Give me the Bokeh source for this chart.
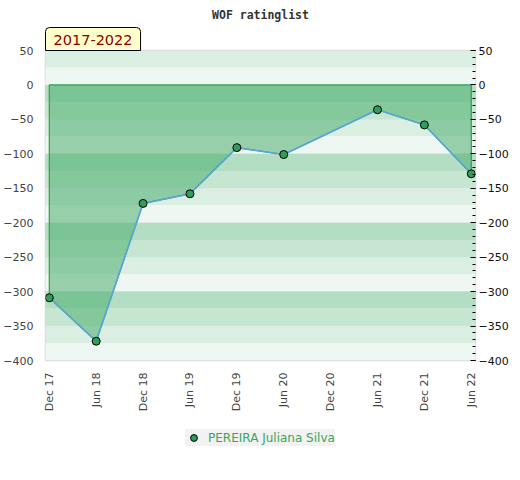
import numpy as np
from bokeh.plotting import figure
from bokeh.layouts import column
from bokeh.models import (Range1d, LinearAxis, SingleIntervalTicker, FixedTicker,
                          Legend, LegendItem, Title)
from bokeh.embed import file_html
from bokeh.resources import INLINE

# ---- data ----
months = ["Dec 17", "Jun 18", "Dec 18", "Jun 19", "Dec 19",
          "Jun 20", "Dec 20", "Jun 21", "Dec 21", "Jun 22"]
rating = [-309, -372, -172, -158, -91, -101, None, -36, -58, -129]
player = "PEREIRA Juliana Silva"
period = "2017-2022"
title_text = "WOF ratinglist"
y_min, y_max = -400, 50

# ---- derived ----
xs = [i for i, v in enumerate(rating) if v is not None]
ys = [v for v in rating if v is not None]

band_colors = ["#b3dec3", "#c6e6d2", "#dbeee2", "#eff7f2"]
band_tops = np.arange(y_max, y_min, -25)
band_bottoms = band_tops - 25
band_fill = [band_colors[int(((-t) % 100) // 25)] for t in band_tops]

MARK_FILL = "#2f9e5a"

p = figure(frame_width=430, frame_height=310, output_backend="svg",
           toolbar_location=None, title=None,
           x_range=Range1d(-0.081, 9.09), y_range=Range1d(y_min, y_max),
           min_border_left=37, min_border_right=37, min_border_top=50,
           min_border_bottom=50, background_fill_color="white",
           border_fill_color="white")
p.outline_line_color = "#d8d8d8"
p.outline_line_width = 1.5

# titles (first in list = closest to frame)
period_title = Title(text=period, align="left", text_font="DejaVu Sans",
                     text_font_size="14.5px", text_font_style="normal",
                     text_color="#8b0000", background_fill_color="#ffffcc",
                     border_line_color="black", border_line_width=1,
                     padding=dict(left=8, right=8, top=7, bottom=6),
                     border_radius=dict(top_left=4, top_right=4,
                                        bottom_right=0, bottom_left=0),
                     standoff=0, offset=0)
main_title = Title(text=title_text, align="center", text_font="DejaVu Sans Mono",
                   text_font_size="11.5px", text_font_style="bold",
                   text_color="#333333", standoff=8)
p.add_layout(period_title, "above")
p.add_layout(main_title, "above")

# background bands
p.quad(left=-1, right=10, top=band_tops, bottom=band_bottoms,
       fill_color=band_fill, line_color=None)
# grid lines every 50
p.ygrid.ticker = SingleIntervalTicker(interval=50)
p.xgrid.visible = False
p.ygrid.grid_line_color = "#dcdcdc"
p.ygrid.grid_line_width = 1.5
p.ygrid.level = "underlay"

# area
px = [xs[0]] + xs + [xs[-1]]
py = [0] + ys + [0]
p.patch(px, py, fill_color="#4cad6e", fill_alpha=0.54,
        line_color="#2e9e55", line_width=1.2)

# line + markers
p.line(xs, ys, line_color="#5ba3dc", line_width=1.5)
pts = p.scatter(xs, ys, size=8, fill_color=MARK_FILL, line_color="black",
                line_width=1)

# axes
p.yaxis.ticker = SingleIntervalTicker(interval=50)
p.yaxis.axis_line_color = None
p.yaxis.major_tick_line_color = None
p.yaxis.minor_tick_line_color = None
p.yaxis.major_label_text_font = "DejaVu Sans"
p.yaxis.major_label_text_font_size = "11px"
p.yaxis.major_label_text_color = "#444444"
p.yaxis.major_label_standoff = 6

ry = LinearAxis(ticker=SingleIntervalTicker(interval=50, num_minor_ticks=5))
ry.axis_line_color = None
ry.major_tick_in = 5
ry.major_tick_out = 0
ry.minor_tick_in = 3
ry.minor_tick_out = 0
ry.major_tick_line_color = "black"
ry.minor_tick_line_color = "black"
ry.major_label_text_font = "DejaVu Sans"
ry.major_label_text_font_size = "11px"
ry.major_label_text_color = "#111111"
ry.major_label_standoff = 3
p.add_layout(ry, "right")

p.xaxis.ticker = FixedTicker(ticks=list(range(len(months))))
p.xaxis.major_label_overrides = {i: m for i, m in enumerate(months)}
p.xaxis.major_label_orientation = np.pi / 2
p.xaxis.axis_line_color = None
p.xaxis.major_tick_line_color = None
p.xaxis.minor_tick_line_color = None
p.xaxis.major_label_text_font = "DejaVu Sans"
p.xaxis.major_label_text_font_size = "11px"
p.xaxis.major_label_text_color = "#444444"
p.xaxis.major_label_standoff = 6

# legend in its own strip below the chart (its renderer lies outside the
# strip's visible range, so only the legend entry shows)
lg = figure(width=504, height=47, output_backend="svg", toolbar_location=None,
            title=None, x_range=Range1d(0, 1), y_range=Range1d(0, 1),
            min_border=0, background_fill_color="white",
            border_fill_color="white")
lg.axis.visible = False
lg.grid.visible = False
lg.outline_line_color = None
lg_pts = lg.scatter(x=xs[:1], y=ys[:1], size=8, fill_color=MARK_FILL,
                    line_color="black", line_width=1)
legend = Legend(items=[LegendItem(label=player, renderers=[lg_pts])],
                location=(140, 15), orientation="horizontal",
                background_fill_color="#f2f2f2", background_fill_alpha=1,
                border_line_color=None, label_text_color="#3aa55d",
                label_text_font="DejaVu Sans", label_text_font_size="12px",
                glyph_width=17, glyph_height=17, label_height=13,
                label_standoff=6, padding=2, margin=0)
lg.add_layout(legend, "center")

layout = column(p, lg, spacing=0)
open("out.html", "w").write(file_html(layout, INLINE))
